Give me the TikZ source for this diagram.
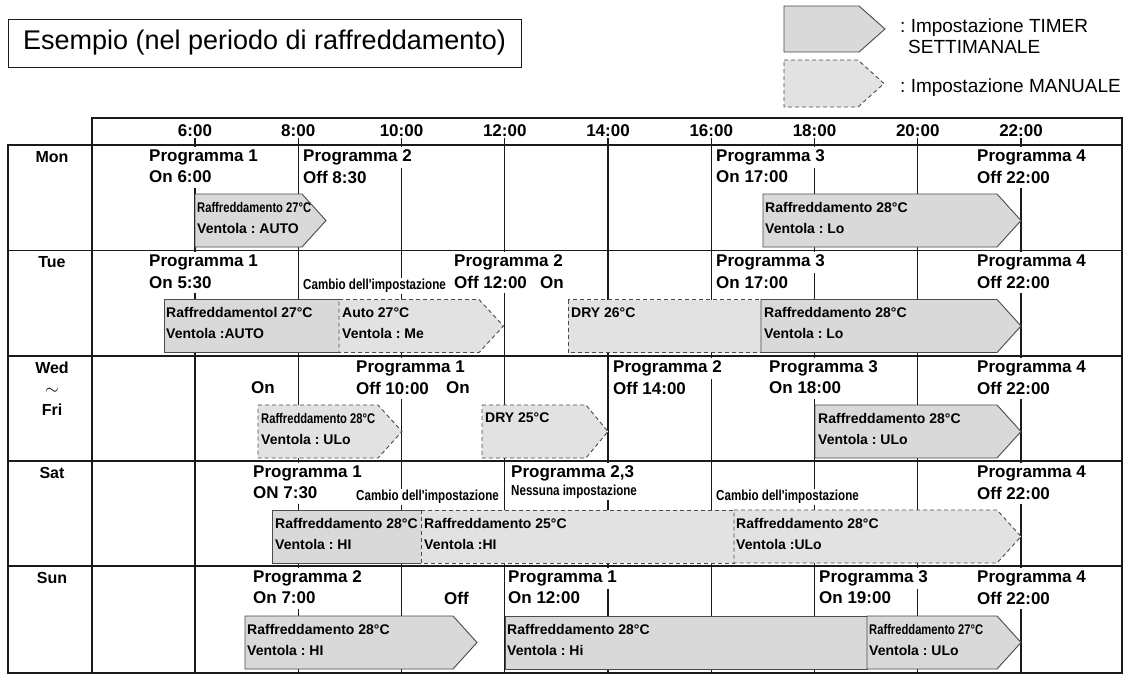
\documentclass[tikz,border=0pt]{standalone}
\usepackage{fontspec}
\setmainfont{Liberation Sans}
\newfontfamily\narrowsf[FakeStretch=0.8]{Liberation Sans}
\usepackage{tikz}
\frenchspacing
\definecolor{linecol}{HTML}{1A1A1A}
\definecolor{barline}{HTML}{4A4A4A}
\definecolor{barfill}{HTML}{D9D9D9}
\definecolor{manfill}{HTML}{E2E2E2}

\begin{document}
\begin{tikzpicture}[x=1pt, y=-1pt,
    tablebox/.style={draw=linecol, line width=1.6pt},
    gridln/.style={draw=linecol, line width=1.3pt},
    timer/.style={draw=barline, fill=barfill, line width=0.9pt},
    manual/.style={draw=barline, fill=manfill, line width=0.9pt, dash pattern=on 4pt off 3pt},
    prog/.style={anchor=west, fill=white, inner xsep=1pt, inner ysep=0pt, minimum height=21pt, font=\fontsize{17}{20}\selectfont\bfseries},
    note/.style={anchor=west, fill=white, inner xsep=1pt, inner ysep=1pt, font=\fontsize{14.5}{17}\narrowsf\bfseries},
    bartxt/.style={anchor=west, inner sep=0pt, font=\fontsize{14}{16}\selectfont\bfseries},
    bartxtn/.style={bartxt, font=\fontsize{14}{16}\narrowsf\bfseries},
    dayname/.style={align=center, font=\fontsize{16}{21}\selectfont\bfseries},
    hourlbl/.style={fill=white, inner sep=1pt, font=\fontsize{17}{20}\selectfont\bfseries},
    legtxt/.style={anchor=west, inner sep=0pt, font=\fontsize{19}{22}\selectfont}]
    \useasboundingbox (0,0) rectangle (1127,680);

    \node[draw=linecol, line width=0.8pt, minimum width=513pt, minimum height=48pt, inner sep=0pt,
      font=\fontsize{27}{30}\selectfont] (title) at (264.5,43) {Esempio (nel periodo di raffreddamento)};

    \draw[timer] (784,6) -- (859,6) -- (885,29) -- (859,52) -- (784,52) -- cycle;
    \draw[manual] (784,60) -- (858,60) -- (884,83.5) -- (858,107) -- (784,107) -- cycle;
    \node[legtxt] (legtimer) at (900,28) {: Impostazione TIMER};
    \node[legtxt] (legsett) at (908,47) {SETTIMANALE};
    \node[legtxt] (legman) at (900,88) {: Impostazione MANUALE};

    \foreach \i/\t/\x in {1/6:00/195, 2/8:00/298.25, 3/10:00/401.5, 4/12:00/504.75, 5/14:00/608,
        6/16:00/711.25, 7/18:00/814.5, 8/20:00/917.75, 9/22:00/1021} {
      \draw[gridln] (\x,131) -- (\x,673);
      \node[hourlbl] (hr\i) at (\x,131) {\t};
    }
    \draw[tablebox] (92,118) rectangle (1122,145);
    \draw[tablebox] (8,145) rectangle (1122,673);
    \draw[tablebox] (92,145) -- (92,673);
    \foreach \y in {250.5, 356, 461, 566}
      \draw[tablebox] (8,\y) -- (1122,\y);

    \foreach \d/\y in {Mon/157, Tue/262.5, Sat/473, Sun/578}
      \node[dayname] (d\d) at (52,\y) {\d};
    \node[dayname] (dWed) at (52,389) {Wed\\$\sim$\\Fri};

    \foreach \n/\y in {a/145, b/250.5, c/356, d/461, e/566} {
      \node[prog] (pfour\n) at (976,\y+12) {Programma 4};
      \node[prog] (offfour\n) at (976,\y+32) {Off 22:00};
    }

    % Mon
    \node[prog] (mp1) at (148,157) {Programma 1};
    \node[prog] (mon1) at (148,177) {On 6:00};
    \node[prog] (mp2) at (302,157) {Programma 2};
    \node[prog] (moff2) at (302,177) {Off 8:30};
    \node[prog] (mp3) at (715,157) {Programma 3};
    \node[prog] (mon3) at (715,177) {On 17:00};
    \draw[timer] (195,194) -- (302,194) -- (326,220.5) -- (302,247) -- (195,247) -- cycle;
    \draw[timer] (763,194) -- (997,194) -- (1021,220.5) -- (997,247) -- (763,247) -- cycle;
    \node[bartxtn] (mb1a) at (197,207) {Raffreddamento 27°C};
    \node[bartxt] (mb1b) at (197,228) {Ventola : AUTO};
    \node[bartxt] (mb2a) at (765,207) {Raffreddamento 28°C};
    \node[bartxt] (mb2b) at (765,228) {Ventola : Lo};

    % Tue
    \node[prog] (tp1) at (148,262.5) {Programma 1};
    \node[prog] (ton1) at (148,282.5) {On 5:30};
    \node[note] (tchg) at (302,286) {Cambio dell'impostazione};
    \node[prog] (tp2) at (453,262.5) {Programma 2};
    \node[prog] (toff2) at (453,282.5) {Off 12:00};
    \node[prog] (ton2) at (539,282.5) {On};
    \node[prog] (tp3) at (715,262.5) {Programma 3};
    \node[prog] (ton3) at (715,282.5) {On 17:00};
    \draw[timer] (339,299.5) -- (164,299.5) -- (164,352.5) -- (339,352.5);
    \draw[manual] (339,299.5) -- (479,299.5) -- (503.5,326) -- (479,352.5) -- (339,352.5) -- cycle;
    \draw[manual] (568,299.5) rectangle (761,352.5);
    \draw[timer] (761,299.5) -- (997,299.5) -- (1021,326) -- (997,352.5) -- (761,352.5) -- cycle;
    \node[bartxt] (tb1a) at (166,312.5) {Raffreddamentol 27°C};
    \node[bartxt] (tb1b) at (166,333.5) {Ventola :AUTO};
    \node[bartxt] (tb2a) at (342,312.5) {Auto 27°C};
    \node[bartxt] (tb2b) at (342,333.5) {Ventola : Me};
    \node[bartxt] (tb3a) at (571,312.5) {DRY 26°C};
    \node[bartxt] (tb4a) at (764,312.5) {Raffreddamento 28°C};
    \node[bartxt] (tb4b) at (764,333.5) {Ventola : Lo};

    % Wed ~ Fri
    \node[prog] (won0) at (250,388) {On};
    \node[prog] (wp1) at (355,368) {Programma 1};
    \node[prog] (woff1) at (355,388) {Off 10:00};
    \node[prog] (won1) at (445,388) {On};
    \node[prog] (wp2) at (612,368) {Programma 2};
    \node[prog] (woff2) at (612,388) {Off 14:00};
    \node[prog] (wp3) at (768,368) {Programma 3};
    \node[prog] (won3) at (768,388) {On 18:00};
    \draw[manual] (258,405) -- (378,405) -- (402,431.5) -- (378,458) -- (258,458) -- cycle;
    \draw[manual] (482,405) -- (586,405) -- (608,431.5) -- (586,458) -- (482,458) -- cycle;
    \draw[timer] (815,405) -- (997,405) -- (1021,431.5) -- (997,458) -- (815,458) -- cycle;
    \node[bartxtn] (wb1a) at (261,418) {Raffreddamento 28°C};
    \node[bartxt] (wb1b) at (261,439) {Ventola : ULo};
    \node[bartxt] (wb2a) at (485,418) {DRY 25°C};
    \node[bartxt] (wb3a) at (818,418) {Raffreddamento 28°C};
    \node[bartxt] (wb3b) at (818,439) {Ventola : ULo};

    % Sat
    \node[prog] (sp1) at (252,473) {Programma 1};
    \node[prog] (son1) at (252,493) {ON 7:30};
    \node[note] (schg1) at (355,497) {Cambio dell'impostazione};
    \node[prog] (sp23) at (510,473) {Programma 2,3};
    \node[note] (snone) at (510,492) {Nessuna impostazione};
    \node[note] (schg2) at (715,497) {Cambio dell'impostazione};
    \draw[timer] (421,510) -- (272,510) -- (272,563) -- (421,563);
    \draw[manual] (421,510) rectangle (734,563);
    \draw[manual] (734,510) -- (997,510) -- (1021,536.5) -- (997,563) -- (734,563) -- cycle;
    \node[bartxt] (sb1a) at (275,523) {Raffreddamento 28°C};
    \node[bartxt] (sb1b) at (275,544) {Ventola : HI};
    \node[bartxt] (sb2a) at (424,523) {Raffreddamento 25°C};
    \node[bartxt] (sb2b) at (424,544) {Ventola :HI};
    \node[bartxt] (sb3a) at (736,523) {Raffreddamento 28°C};
    \node[bartxt] (sb3b) at (736,544) {Ventola :ULo};

    % Sun
    \node[prog] (up2) at (252,578) {Programma 2};
    \node[prog] (uon2) at (252,598) {On 7:00};
    \node[prog] (uoff2) at (443,598) {Off};
    \node[prog] (up1) at (507,578) {Programma 1};
    \node[prog] (uon1) at (507,598) {On 12:00};
    \node[prog] (up3) at (818,578) {Programma 3};
    \node[prog] (uon3) at (818,598) {On 19:00};
    \draw[timer] (245,616) -- (453,616) -- (477,642.5) -- (453,669) -- (245,669) -- cycle;
    \draw[timer] (505,616) rectangle (867,669);
    \draw[timer] (867,616) -- (997,616) -- (1021,642.5) -- (997,669) -- (867,669) -- cycle;
    \node[bartxt] (ub1a) at (247,629) {Raffreddamento 28°C};
    \node[bartxt] (ub1b) at (247,650) {Ventola : HI};
    \node[bartxt] (ub2a) at (507,629) {Raffreddamento 28°C};
    \node[bartxt] (ub2b) at (507,650) {Ventola : Hi};
    \node[bartxtn] (ub3a) at (869,629) {Raffreddamento 27°C};
    \node[bartxt] (ub3b) at (869,650) {Ventola : ULo};
  \end{tikzpicture}
\end{document}
